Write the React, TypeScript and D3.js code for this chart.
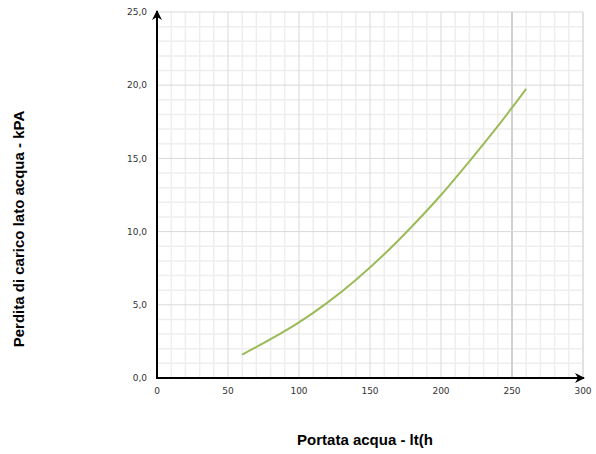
import React, { useEffect, useRef } from 'react';
import * as d3 from 'd3';

// Portata acqua (lt/h) vs perdita di carico (kPa)
const portata = [60, 80, 100, 120, 140, 160, 180, 200, 220, 240, 260];
const perdita = [1.6, 2.65, 3.8, 5.15, 6.7, 8.45, 10.4, 12.5, 14.8, 17.2, 19.75];

const xTicks = [0, 50, 100, 150, 200, 250, 300];
const yTicks = [0, 5, 10, 15, 20, 25];

const xTitle = 'Portata acqua - lt(h';
const yTitle = 'Perdita di carico lato acqua - kPA';

const W = 596;
const H = 454;

export default function App() {
  const svgRef = useRef<SVGSVGElement>(null);

  useEffect(() => {
    if (!svgRef.current) return;
    const svg = d3.select(svgRef.current);
    svg.selectAll('*').remove();

    const x = d3.scaleLinear().domain([0, 300]).range([157, 583]);
    const y = d3.scaleLinear().domain([0, 25]).range([378, 12]);

    const g = svg.append('g');

    // minor grid
    g.selectAll('.vminor')
      .data(d3.range(10, 300, 10).filter(v => v % 50 !== 0))
      .enter().append('line')
      .attr('x1', d => x(d)).attr('x2', d => x(d))
      .attr('y1', y(25)).attr('y2', y(0))
      .attr('stroke', '#eeeeee').attr('stroke-width', 1.5);
    g.selectAll('.hminor')
      .data(d3.range(1, 25, 1).filter(v => v % 5 !== 0))
      .enter().append('line')
      .attr('x1', x(0)).attr('x2', x(300))
      .attr('y1', d => y(d)).attr('y2', d => y(d))
      .attr('stroke', '#eeeeee').attr('stroke-width', 1.5);

    // major grid
    g.selectAll('.vmajor')
      .data(xTicks.slice(1))
      .enter().append('line')
      .attr('x1', d => x(d)).attr('x2', d => x(d))
      .attr('y1', y(25)).attr('y2', y(0))
      .attr('stroke', d => (d === 250 ? '#d0d0d0' : d === 300 ? '#e2e2e2' : '#d9d9d9'))
      .attr('stroke-width', d => (d === 250 || d === 300 ? 2 : 1));
    g.selectAll('.hmajor')
      .data(yTicks.slice(1))
      .enter().append('line')
      .attr('x1', x(0)).attr('x2', x(300))
      .attr('y1', d => y(d)).attr('y2', d => y(d))
      .attr('stroke', '#d9d9d9').attr('stroke-width', 1);

    // curve
    const line = d3.line<number>()
      .x((_, i) => x(portata[i]))
      .y(d => y(d))
      .curve(d3.curveCatmullRom);
    g.append('path')
      .datum(perdita)
      .attr('fill', 'none')
      .attr('stroke', '#9bbb59')
      .attr('stroke-width', 2)
      .attr('d', line);

    // axes with arrows
    const defs = svg.append('defs');
    defs.append('marker')
      .attr('id', 'arrow')
      .attr('viewBox', '0 0 10 10')
      .attr('refX', 9).attr('refY', 5)
      .attr('markerWidth', 5).attr('markerHeight', 5)
      .attr('orient', 'auto')
      .append('path')
      .attr('d', 'M0,0 L10,5 L0,10 L3,5 Z')
      .attr('fill', '#000');

    g.append('line')
      .attr('x1', x(0)).attr('x2', x(0))
      .attr('y1', y(0) + 1).attr('y2', y(25) - 1)
      .attr('stroke', '#000').attr('stroke-width', 2)
      .attr('marker-end', 'url(#arrow)');
    g.append('line')
      .attr('x1', x(0) - 1).attr('x2', x(300) + 1)
      .attr('y1', y(0)).attr('y2', y(0))
      .attr('stroke', '#000').attr('stroke-width', 2)
      .attr('marker-end', 'url(#arrow)');

    // tick labels
    const fmt = (v: number) => v.toFixed(1).replace('.', ',');
    g.selectAll('.ylab')
      .data(yTicks)
      .enter().append('text')
      .attr('x', 147)
      .attr('y', d => y(d))
      .attr('dy', '0.35em')
      .attr('text-anchor', 'end')
      .style('font-family', 'DejaVu Sans, Verdana, sans-serif')
      .style('font-size', '9px')
      .attr('fill', '#333')
      .text(d => fmt(d));
    g.selectAll('.xlab')
      .data(xTicks)
      .enter().append('text')
      .attr('x', d => x(d))
      .attr('y', 391)
      .attr('dy', '0.35em')
      .attr('text-anchor', 'middle')
      .style('font-family', 'DejaVu Sans, Verdana, sans-serif')
      .style('font-size', '9px')
      .attr('fill', '#333')
      .text(d => String(d));

    // titles
    g.append('text')
      .attr('x', 365)
      .attr('y', 445)
      .attr('text-anchor', 'middle')
      .style('font-family', 'Liberation Sans, Arial, sans-serif')
      .style('font-size', '15px')
      .style('font-weight', 'bold')
      .text(xTitle);
    g.append('text')
      .attr('transform', 'translate(24,229) rotate(-90)')
      .attr('text-anchor', 'middle')
      .style('font-family', 'Liberation Sans, Arial, sans-serif')
      .style('font-size', '15px')
      .style('font-weight', 'bold')
      .text(yTitle);
  }, []);

  return (
    <svg
      ref={svgRef}
      width={W}
      height={H}
      style={{ position: 'absolute', left: 0, top: 0, background: '#fff' }}
    />
  );
}
